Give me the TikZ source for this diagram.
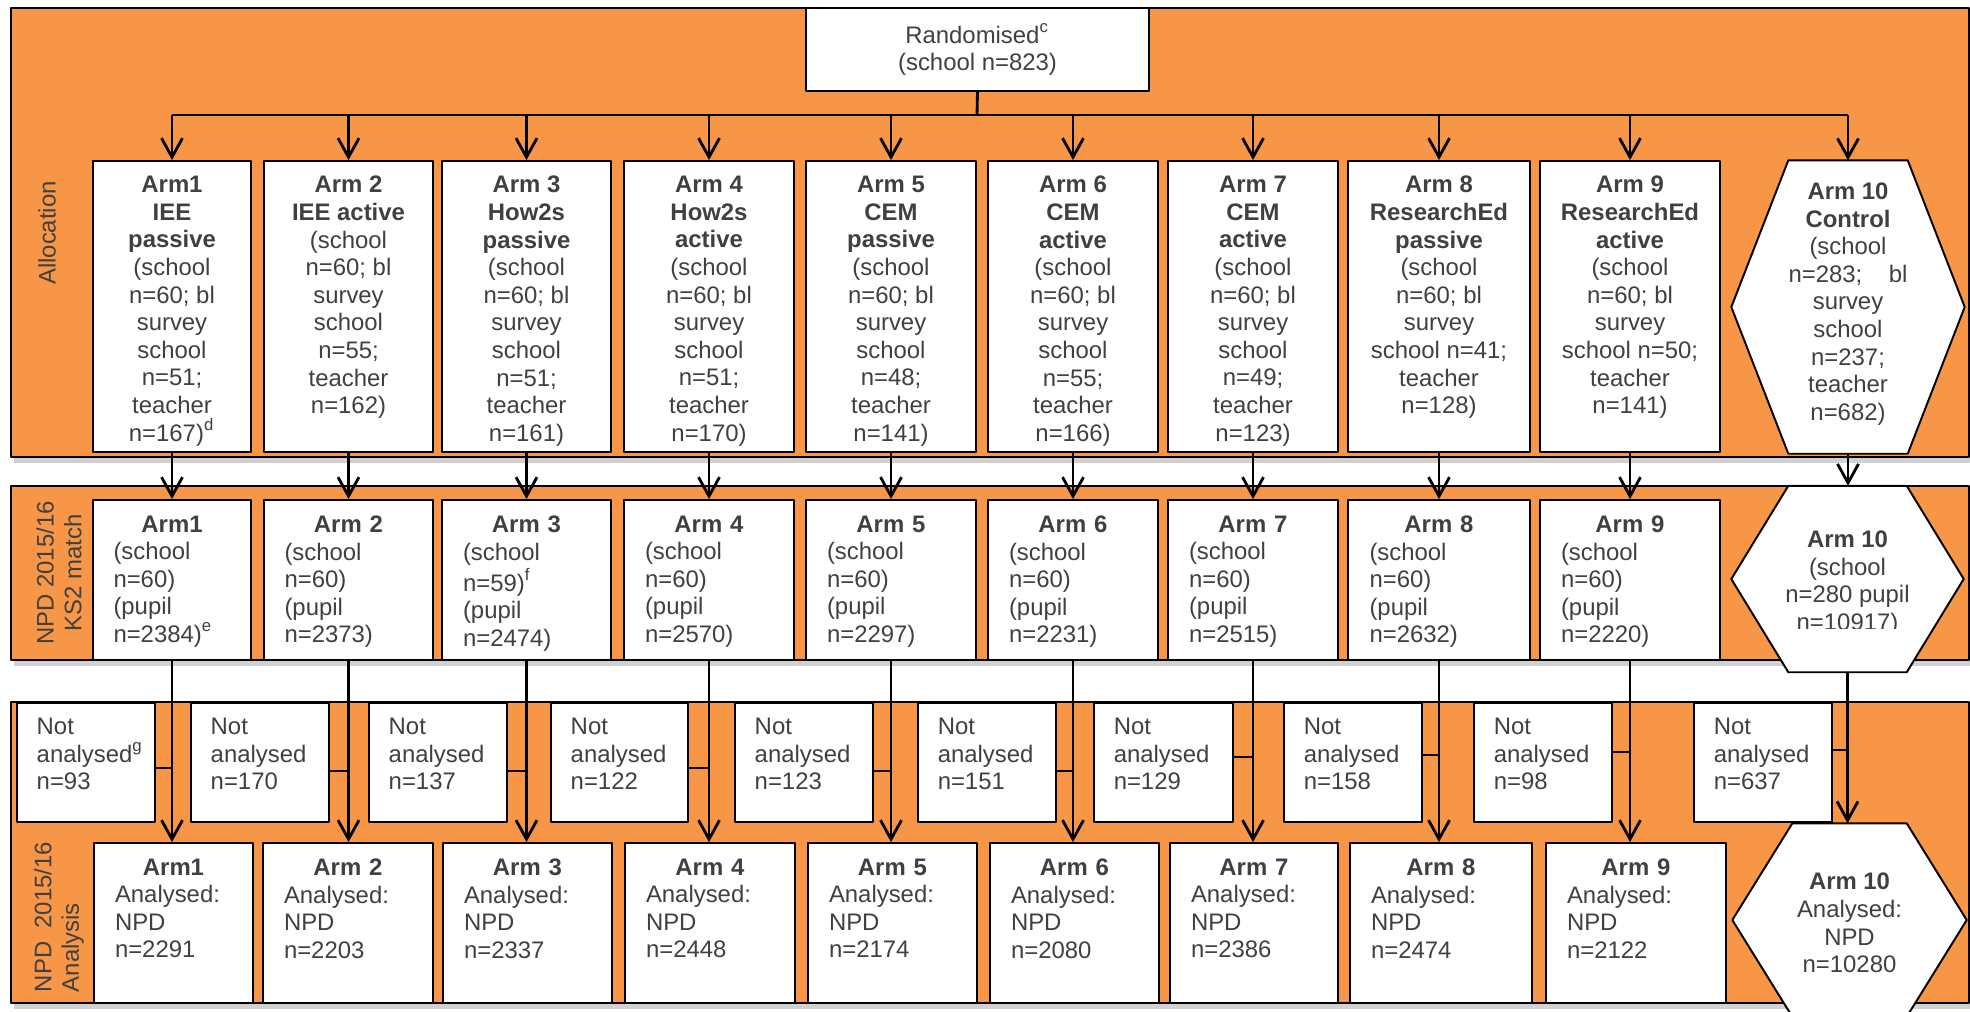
\documentclass[tikz,border=0pt]{standalone}
\usepackage{fontspec}
\setmainfont{Liberation Sans}
\usetikzlibrary{arrows.meta}
\definecolor{cam}{RGB}{247,150,70}
\definecolor{xam}{RGB}{64,64,64}
% hexagon round an empty node: #1 node, #2 corner cut
\newcommand{\hexa}[2]{\draw[wbox] (#1.west) -- ([xshift=#2]#1.north west) -- ([xshift=-#2]#1.north east) -- (#1.east) -- ([xshift=-#2]#1.south east) -- ([xshift=#2]#1.south west) -- cycle;}
\begin{document}
\begin{tikzpicture}[x=0.1mm,y=-0.1mm,line join=round,
	font=\fontsize{6.8}{7.85}\selectfont,
	band/.style={draw=black,fill=cam,line width=0.5pt},
	shad/.style={fill=black!18},
	wbox/.style={draw=black,fill=white,line width=0.55pt,inner sep=0pt},
	txt/.style={text=xam,inner sep=0pt},
	ln/.style={line width=0.8pt},
	arr/.style={-{Straight Barb[length=1.9mm,width=2.1mm]},line width=0.8pt}]
	\clip (0,0) rectangle (1970,1011);
	% ba dai cam
	\foreach \t/\b in {8/457,486/660,702/1003}{
		\fill[shad] (14,\b) rectangle (1970,{\b+6});
		\draw[band] (11,\t) rectangle (1969,\b);
	}
	\node[txt,rotate=90] (lAlloc) at (47,233) {Allocation};
	\node[txt,rotate=90,align=center] (lMatch) at (59,573) {NPD 2015/16\\KS2 match};
	\node[txt,rotate=90,align=left] (lAnal) at (59,917) {NPD\ \ 2015/16\\Analysis};
	\node[wbox,txt,align=center,minimum width=34.3mm,minimum height=8.3mm] (rand) at (977.5,49.5) {Randomised\textsuperscript{c}\\(school n=823)};
	% hop trang: cot \i, trai \l, phai \r
	\foreach \i/\l/\r/\la/\ra in {1/93/251/94/253,2/264/433/263/433,3/442/611/443/612,4/624/794/625/795,5/806/976/808/977,6/988/1158/990/1159,7/1168/1338/1170/1338,8/1348/1530/1350/1532,9/1540/1720/1546/1726}{
		\pgfmathsetmacro\w{(\r-\l)/10}
		\pgfmathsetmacro\wa{(\ra-\la)/10}
		\node[wbox,minimum width=\w mm,minimum height=29.1mm] (al\i) at ({(\l+\r)/2},306.5) {};
		\node[wbox,minimum width=\w mm,minimum height=16mm] (km\i) at ({(\l+\r)/2},580) {};
		\node[wbox,minimum width=\wa mm,minimum height=16mm] (an\i) at ({(\la+\ra)/2},923) {};
	}
	\foreach \i/\l/\r in {1/17/155,2/191/329,3/369/507,4/551/688,5/735/873,6/918/1056,7/1094/1233,8/1284/1422,9/1474/1612,10/1694/1832}{
		\pgfmathsetmacro\w{(\r-\l)/10}
		\node[wbox,minimum width=\w mm,minimum height=11.9mm] (na\i) at ({(\l+\r)/2},762.5) {};
	}
	\node[inner sep=0pt,minimum width=23.2mm,minimum height=29.2mm] (hx1) at (1848,307) {};
	\node[inner sep=0pt,minimum width=23.1mm,minimum height=18.5mm] (hx2) at (1847.5,579) {};
	\node[inner sep=0pt,minimum width=23.3mm,minimum height=19.2mm] (hx3) at (1849.5,920) {};
	\hexa{hx1}{5.7mm} \hexa{hx2}{5.7mm} \hexa{hx3}{6mm}
	% chu trong hop
	\foreach \i/\noidung in {
		1/\textbf{Arm1}\\\textbf{IEE}\\\textbf{passive}\\(school\\n=60; bl\\survey\\school\\n=51;\\teacher\\n=167)\textsuperscript{d},
		2/\textbf{Arm 2}\\\textbf{IEE active}\\(school\\n=60; bl\\survey\\school\\n=55;\\teacher\\n=162),
		3/\textbf{Arm 3}\\\textbf{How2s}\\\textbf{passive}\\(school\\n=60; bl\\survey\\school\\n=51;\\teacher\\n=161),
		4/\textbf{Arm 4}\\\textbf{How2s}\\\textbf{active}\\(school\\n=60; bl\\survey\\school\\n=51;\\teacher\\n=170),
		5/\textbf{Arm 5}\\\textbf{CEM}\\\textbf{passive}\\(school\\n=60; bl\\survey\\school\\n=48;\\teacher\\n=141),
		6/\textbf{Arm 6}\\\textbf{CEM}\\\textbf{active}\\(school\\n=60; bl\\survey\\school\\n=55;\\teacher\\n=166),
		7/\textbf{Arm 7}\\\textbf{CEM}\\\textbf{active}\\(school\\n=60; bl\\survey\\school\\n=49;\\teacher\\n=123),
		8/\textbf{Arm 8}\\\textbf{ResearchEd}\\\textbf{passive}\\(school\\n=60; bl\\survey\\school n=41;\\teacher\\n=128),
		9/\textbf{Arm 9}\\\textbf{ResearchEd}\\\textbf{active}\\(school\\n=60; bl\\survey\\school n=50;\\teacher\\n=141)}
	\node[txt,align=center,anchor=north] (alt\i) at ([yshift=-1.55mm]al\i.north) {\noidung};
	\foreach \i/\tw/\noidung in {
		1/11.7/\makebox[\linewidth]{\textbf{Arm1}}\\(school\\n=60)\\(pupil\\n=2384)\textsuperscript{e},
		2/12.8/\makebox[\linewidth]{\textbf{Arm 2}}\\(school\\n=60)\\(pupil\\n=2373),
		3/12.7/\makebox[\linewidth]{\textbf{Arm 3}}\\(school\\n=59)\textsuperscript{f}\\(pupil\\n=2474),
		4/12.8/\makebox[\linewidth]{\textbf{Arm 4}}\\(school\\n=60)\\(pupil\\n=2570),
		5/12.8/\makebox[\linewidth]{\textbf{Arm 5}}\\(school\\n=60)\\(pupil\\n=2297),
		6/12.8/\makebox[\linewidth]{\textbf{Arm 6}}\\(school\\n=60)\\(pupil\\n=2231),
		7/12.8/\makebox[\linewidth]{\textbf{Arm 7}}\\(school\\n=60)\\(pupil\\n=2515),
		8/13.9/\makebox[\linewidth]{\textbf{Arm 8}}\\(school\\n=60)\\(pupil\\n=2632),
		9/13.8/\makebox[\linewidth]{\textbf{Arm 9}}\\(school\\n=60)\\(pupil\\n=2220)}
	\node[txt,align=left,text width=\tw mm,anchor=north] (kmt\i) at ([yshift=-1.6mm]km\i.north) {\noidung};
	\foreach \i/\tw/\ten/\so in {1/11.7/Arm1/2291,2/12.8/Arm 2/2203,3/12.7/Arm 3/2337,4/12.8/Arm 4/2448,5/12.7/Arm 5/2174,6/12.7/Arm 6/2080,7/12.6/Arm 7/2386,8/14.0/Arm 8/2474,9/13.8/Arm 9/2122}
	\node[txt,align=left,text width=\tw mm,anchor=north] (ant\i) at ([yshift=-1.6mm]an\i.north) {\makebox[\linewidth]{\textbf{\ten}}\\Analysed:\\NPD\\n=\so};
	\foreach \i/\dong/\so in {1/analysed\textsuperscript{g}/93,2/analysed/170,3/analysed/137,4/analysed/122,5/analysed/123,6/analysed/151,7/analysed/129,8/analysed/158,9/analysed/98,10/analysed/637}
	\node[txt,align=left,anchor=north west] (nat\i) at ([xshift=2mm,yshift=-1.55mm]na\i.north west) {Not\\\dong\\n=\so};
	\node[txt,align=center] (hxt1) at ([yshift=0.3mm]hx1) {\textbf{Arm 10}\\\textbf{Control}\\(school\\n=283;\ \ \ \ bl\\survey\\school\\n=237;\\teacher\\n=682)};
	\begin{scope}
		\clip (1700,480) rectangle (1970,628);
		\node[txt,align=center] (hxt2) at ([yshift=-0.4mm]hx2) {\textbf{Arm 10}\\(school\\n=280 pupil\\n=10917)};
	\end{scope}
	\node[txt,align=center] (hxt3) at ([yshift=-0.3mm]hx3) {\textbf{Arm 10}\\Analysed:\\NPD\\n=10280};
	% mui ten
	\coordinate (bus) at (977,115);
	\draw[ln] (rand.south) -- (bus);
	\draw[ln] (bus -| al1.north) -- (bus -| hx1.north);
	\foreach \i in {1,...,9}{
		\draw[arr] (bus -| al\i.north) -- (al\i.north);
		\draw[arr] (al\i.south) -- (al\i.south |- km\i.north);
		\draw[arr] (km\i.south) -- (km\i.south |- an\i.north);
	}
	\draw[arr] (bus -| hx1.north) -- (hx1.north);
	\draw[arr] (hx1.south) -- (hx1.south |- hx2.north);
	\draw[arr] (hx2.south) -- (hx2.south |- hx3.north);
	\foreach \i/\y in {1/768,2/771,3/771,4/768,5/771,6/771,7/757,8/755,9/752}
	\draw[ln] (na\i.east |- 0,\y) -- (km\i.south |- 0,\y);
	\draw[ln] (na10.east |- 0,750) -- (hx2.south |- 0,750);
\end{tikzpicture}
\end{document}
